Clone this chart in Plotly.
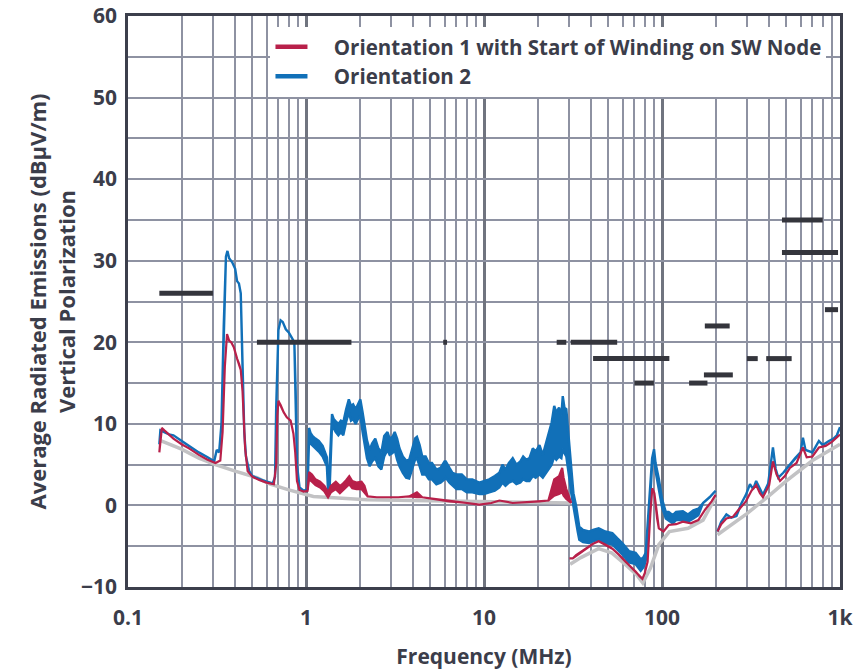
import plotly.graph_objects as go

# ---------------- data ----------------
# Orientation 2 (blue): frequency, upper and lower edge of the trace band
blue_f = [0.15, 0.152, 0.16, 0.17, 0.18, 0.2, 0.22, 0.25, 0.28, 0.305, 0.315, 0.325, 0.335, 0.345, 0.355,
          0.362, 0.37, 0.385, 0.4, 0.41, 0.42, 0.43, 0.44, 0.45, 0.46, 0.48, 0.5, 0.55, 0.6, 0.65, 0.67,
          0.68, 0.7, 0.72, 0.74, 0.77, 0.8, 0.83, 0.86, 0.875, 0.89, 0.92, 0.97, 1.02, 1.04, 1.06, 1.09,
          1.13, 1.18, 1.24, 1.28, 1.31, 1.33, 1.36, 1.4, 1.43, 1.47, 1.52, 1.57, 1.62, 1.68, 1.74, 1.79,
          1.84, 1.9, 1.96, 2.02, 2.08, 2.14, 2.2, 2.28, 2.35, 2.45, 2.55, 2.65, 2.75, 2.87, 2.95, 3.06,
          3.15, 3.25, 3.35, 3.5, 3.65, 3.8, 3.95, 4.1, 4.2, 4.35, 4.5, 4.7, 4.9, 5.1, 5.4, 5.7, 6.0, 6.1,
          6.4, 6.65, 7.0, 7.5, 8.0, 8.6, 9.4, 10.0, 10.7, 11.5, 12.2, 12.7, 13.2, 13.8, 14.5, 15.2, 16.0,
          16.6, 17.3, 18.0, 18.8, 19.5, 20.5, 21.4, 22.2, 23.0, 24.0, 24.8, 25.5, 26.4, 27.2, 27.7, 28.3,
          29.0, 29.6, 30.3, 30.9, 31.8, 32.9, 33.6, 34.3, 36, 38.8, 41, 44.1, 48, 52.6, 56, 59.8, 65.2,
          71.1, 75.9, 78.5, 81, 84, 86.4, 88, 90.2, 92, 96.1, 100, 105, 109, 115, 120, 131, 140, 150, 160,
          170, 185, 200, None, 205, 215, 230, 245, 262, 280, 296, 312, 325, 338, 355, 369, 395, 410, 420,
          435, 450, 480, 523, 560, 600, 619, 640, 660, 700, 761, 800, 866, 920, 960, 1000]
blue_hi = [7.5, 9.2, 9.0, 8.7, 8.6, 7.9, 7.3, 6.5, 5.9, 5.4, 6.8, 6.5, 10, 22, 30.5,
           31.2, 30.3, 29.8, 29.0, 27.5, 27.2, 26.0, 17, 9, 6, 4.2, 3.6, 3.2, 2.9, 2.7, 3.5,
           12, 21.5, 22.7, 22.5, 21.6, 21.2, 20.6, 20.0, 14, 5, 2.2, 1.8, 2.0, 9.5, 8.9, 8.5,
           8.2, 7.9, 7.3, 6.6, 5.9, 3.0, 5.0, 11.2, 10.6, 10.3, 10.0, 10.4, 10.2, 11.8, 13.0, 12.2,
           12.4, 11.8, 12.4, 13.0, 11.4, 9.6, 8.0, 6.8, 7.6, 8.2, 7.0, 6.5, 8.5, 9.0, 8.2, 8.4,
           9.0, 8.2, 7.0, 6.0, 5.5, 5.6, 7.0, 8.2, 8.4, 7.4, 6.0, 6.0, 5.2, 5.2, 4.4, 4.6, 5.4, 5.4,
           4.6, 4.0, 3.8, 3.8, 3.2, 3.2, 2.8, 3.0, 3.2, 3.6, 4.0, 5.0, 4.4, 5.2, 5.8, 5.0, 5.4,
           6.0, 5.6, 5.8, 7.0, 6.6, 7.4, 6.2, 7.4, 8.6, 10.2, 12.2, 11.4, 12.0, 11.0, 13.4, 12.0,
           11.8, 9.5, 6.5, 4.0, 1.5, 0.0, -1.5, -2.6, -3.0, -3.2, -3.0, -2.8, -3.2, -3.4, -4.0, -4.6, -5.6,
           -5.8, -6.6, -6.4, -5.8, -1.0, 3.0, 5.8, 6.9, 5.2, 3.2, 0.8, -0.8, -0.8, -1.2, -0.8, -0.7, -1.1, -0.6, -0.4,
           0.3, 1.0, 1.8, None, -3.2, -2.0, -1.1, -1.5, -1.3, 0.3, 1.3, 2.6, 2.0, 3.0, 2.0, 1.3, 2.7, 5.5, 7.1,
           4.5, 3.4, 4.0, 5.0, 5.8, 6.5, 8.3, 6.8, 6.7, 6.5, 7.9, 7.4, 7.9, 8.2, 8.6, 9.6]
blue_lo = [7.5, 9.2, 9.0, 8.7, 8.6, 7.9, 7.3, 6.5, 5.9, 5.4, 6.8, 6.5, 10, 22, 30.5,
           31.2, 30.3, 29.8, 29.0, 27.5, 27.2, 26.0, 17, 9, 6, 4.2, 3.6, 3.2, 2.9, 2.7, 3.5,
           12, 21.5, 22.7, 22.5, 21.6, 21.2, 20.6, 20.0, 14, 5, 2.2, 1.8, 2.0, 8.0, 7.6, 7.3,
           7.0, 6.6, 6.0, 5.4, 4.8, 1.8, 2.5, 9.8, 9.4, 9.0, 8.6, 9.0, 8.6, 10.2, 11.4, 10.4,
           10.6, 10.0, 10.6, 11.0, 9.0, 7.2, 5.8, 4.8, 5.4, 5.8, 4.8, 4.4, 6.0, 6.8, 6.2, 6.4,
           6.8, 5.6, 4.8, 4.0, 3.4, 3.3, 4.4, 5.6, 5.8, 4.8, 3.8, 3.8, 3.2, 3.2, 2.6, 2.8, 3.2, 3.4,
           2.8, 2.4, 2.0, 2.0, 1.6, 1.6, 1.4, 1.4, 1.6, 1.8, 2.2, 2.8, 2.4, 2.8, 3.0, 2.6, 2.8,
           3.2, 3.0, 3.0, 3.6, 3.4, 3.8, 3.4, 3.8, 4.4, 5.0, 6.0, 5.6, 6.0, 5.8, 7.0, 6.4,
           6.0, 4.5, 3.0, 1.5, -0.5, -2.0, -3.2, -4.2, -4.5, -4.6, -4.4, -4.2, -4.6, -4.8, -5.4, -6.0, -7.0,
           -7.2, -8.0, -7.6, -6.8, -1.5, 2.0, 5.0, 6.0, 4.2, 2.0, -0.2, -1.6, -1.8, -2.2, -1.8, -1.8, -2.0, -1.6, -1.2,
           0.3, 1.0, 1.8, None, -3.2, -2.0, -1.1, -1.5, -1.3, 0.3, 1.3, 2.6, 2.0, 3.0, 2.0, 1.3, 2.7, 5.5, 7.1,
           4.5, 3.4, 4.0, 5.0, 5.8, 6.5, 8.3, 6.8, 6.7, 6.5, 7.9, 7.4, 7.9, 8.2, 8.6, 9.6]

# Orientation 1 (red)
red_f = [0.15, 0.152, 0.155, 0.16, 0.18, 0.2, 0.22, 0.25, 0.28, 0.31, 0.33, 0.34, 0.35, 0.36, 0.37,
         0.38, 0.393, 0.41, 0.42, 0.43, 0.44, 0.455, 0.47, 0.5, 0.55, 0.6, 0.66, 0.68, 0.69, 0.70, 0.72,
         0.75, 0.78, 0.82, 0.85, 0.87, 0.89, 0.92, 0.97, 1.02, 1.04, 1.08, 1.13, 1.2, 1.27, 1.33, 1.38,
         1.47, 1.55, 1.6, 1.68, 1.75, 1.82, 1.92, 2.05, 2.13, 2.22, 2.5, 2.8, 3.3, 3.8, 4.2, 4.5, 5.5,
         6.4, 8, 9.4, 11, 12.2, 14.5, 17, 20.5, 23, 24.8, 26.4, 27.5, 28, 29, 30.9, None,
         30.2, 31.5, 32.9, 35, 37.5, 41, 44.1, 48, 52.6, 57, 62.4, 67, 71.1, 75, 77.6, 80, 83, 86, 88.2,
         90.6, 93.9, 96, 102, 109, 120, 131, 145, 160, 175, 190, 200, None,
         205, 215, 230, 250, 270, 296, 318, 338, 355, 369, 400, 420, 440, 460, 490, 523, 570, 619, 650,
         700, 761, 830, 900, 1000]
red_hi = [6.5, 8.0, 9.5, 9.2, 8.2, 7.5, 7.0, 6.2, 5.6, 5.2, 5.5, 9, 17, 21.0, 20.2,
          20.0, 19.4, 18.0, 17.4, 16.6, 14, 7, 4.2, 3.5, 3.1, 2.8, 2.6, 5, 11, 12.8, 12.3,
          11.4, 10.8, 10.4, 8.8, 6.5, 3, 1.9, 1.7, 1.8, 4.1, 3.8, 3.2, 2.9, 2.4, 1.6, 2.4,
          2.9, 2.4, 2.6, 3.1, 3.6, 3.0, 2.8, 2.9, 2.4, 1.1, 1.0, 1.0, 1.0, 1.1, 1.6, 1.0, 0.7,
          0.5, 0.3, 0.1, 0.3, 0.6, 0.3, 0.4, 0.5, 0.6, 3.2, 3.6, 4.6, 3.4, 2.0, 0.3, None,
          -6.5, -6.5, -6.1, -5.7, -5.3, -4.7, -4.4, -4.8, -5.3, -6.0, -6.9, -7.6, -8.1, -8.7, -9.0, -8.3, -6.9, -1, 2.1,
          1.5, -1.6, -2.8, -3.2, -2.4, -2.3, -2.0, -2.2, -1.8, -0.5, 0.5, 1.3, None,
          -3.2, -2.3, -1.6, -1.4, -0.5, 0.5, 1.8, 2.5, 1.5, 1.0, 2.5, 5.4, 3.8, 3.0, 3.6, 4.6, 5.2, 7.1, 5.9,
          6.0, 7.1, 7.3, 7.8, 8.7]
red_lo = [6.5, 8.0, 9.5, 9.2, 8.2, 7.5, 7.0, 6.2, 5.6, 5.2, 5.5, 9, 17, 21.0, 20.2,
          20.0, 19.4, 18.0, 17.4, 16.6, 14, 7, 4.2, 3.5, 3.1, 2.8, 2.6, 5, 11, 12.8, 12.3,
          11.4, 10.8, 10.4, 8.8, 6.5, 3, 1.9, 1.7, 1.8, 3.2, 2.9, 2.5, 2.2, 1.7, 1.0, 1.6,
          2.0, 1.5, 1.7, 2.2, 2.6, 2.1, 2.0, 2.0, 1.6, 1.1, 1.0, 1.0, 1.0, 1.1, 1.0, 1.0, 0.7,
          0.5, 0.3, 0.1, 0.3, 0.6, 0.3, 0.4, 0.5, 0.6, 1.2, 1.4, 1.6, 1.2, 0.8, 0.3, None,
          -6.5, -6.5, -6.1, -5.7, -5.3, -4.7, -4.4, -4.8, -5.3, -6.0, -6.9, -7.6, -8.1, -8.7, -9.0, -8.3, -6.9, -1, 2.1,
          1.5, -1.6, -2.8, -3.2, -2.4, -2.3, -2.0, -2.2, -1.8, -0.5, 0.5, 1.3, None,
          -3.2, -2.3, -1.6, -1.4, -0.5, 0.5, 1.8, 2.5, 1.5, 1.0, 2.5, 5.4, 3.8, 3.0, 3.6, 4.6, 5.2, 7.1, 5.9,
          6.0, 7.1, 7.3, 7.8, 8.7]

# measurement noise floor (gray)
floor_f = [0.15, 0.2, 0.25, 0.31, 0.4, 0.53, 0.63, 0.8, 1.1, 1.5, 2.2, 4, 10, 20, 30.5, None,
           30.5, 35, 44, 52, 62, 72, 78, 86, 96, 110, 140, 170, 200, None,
           205, 300, 400, 500, 700, 1000]
floor_db = [8.0, 6.9, 5.8, 5.0, 4.2, 3.4, 2.6, 1.9, 1.1, 0.9, 0.7, 0.6, 0.5, 0.4, 0.3, None,
            -7.2, -6.4, -5.3, -5.8, -7.2, -8.5, -9.5, -7.7, -4.8, -3.2, -2.8, -1.8, 1.0, None,
            -3.6, -1.0, 1.2, 3.0, 5.5, 7.5]

# limit lines
limit_start = [0.15, 0.53, 5.9, 25.6, 30.7, 41, 70, 142, 172, 174, 300, 385, 472, 472, 823]
limit_end = [0.30, 1.8, 6.2, 29, 56, 110, 90, 180, 250, 240, 345, 535, 800, 975, 975]
limit_level = [26, 20, 20, 20, 20, 18, 15, 15, 16, 22, 18, 18, 35, 31, 24]

series_names = ["Orientation 1 with Start of Winding on SW Node", "Orientation 2"]
x_tick_vals = [0.1, 1, 10, 100, 1000]
x_tick_text = ["0.1", "1", "10", "100", "1k"]
y_tick_vals = [-10, 0, 10, 20, 30, 40, 50, 60]


# ---------------- helpers ----------------
def band_polygon(fs, his, los):
    """Closed outline: upper edge forward, lower edge back, one polygon per segment."""
    xs, ys = [], []
    seg = []
    for f, h, l in list(zip(fs, his, los)) + [(None, None, None)]:
        if f is None:
            if seg:
                xs += [p[0] for p in seg] + [p[0] for p in reversed(seg)] + [None]
                ys += [p[1] for p in seg] + [p[2] for p in reversed(seg)] + [None]
            seg = []
        else:
            seg.append((f, h, l))
    return xs, ys


lim_x, lim_y = [], []
for a, b, v in zip(limit_start, limit_end, limit_level):
    lim_x += [a, b, None]
    lim_y += [v, v, None]

minor_vals = [m * 10 ** e for e in range(-1, 3) for m in range(2, 10)]

bx, by = band_polygon(blue_f, blue_hi, blue_lo)
rx, ry = band_polygon(red_f, red_hi, red_lo)

BLUE = "#1170b8"
RED = "#b8204a"

fig = go.Figure()
fig.add_trace(go.Scatter(x=floor_f, y=floor_db, mode="lines", line=dict(color="#c2c2c4", width=3.5),
                         showlegend=False, hoverinfo="skip"))
fig.add_trace(go.Scatter(x=bx, y=by, mode="lines", fill="toself", fillcolor=BLUE,
                         line=dict(color=BLUE, width=2.4), showlegend=False))
fig.add_trace(go.Scatter(x=rx, y=ry, mode="lines", fill="toself", fillcolor=RED,
                         line=dict(color=RED, width=2.2), showlegend=False))
fig.add_trace(go.Scatter(x=lim_x, y=lim_y, mode="lines", line=dict(color="#34353c", width=5),
                         showlegend=False, hoverinfo="skip"))
# legend entries
pad = "\u00a0" * 4
fig.add_trace(go.Scatter(x=[None], y=[None], mode="lines", name=pad + series_names[0],
                         line=dict(color=RED, width=4.5)))
fig.add_trace(go.Scatter(x=[None], y=[None], mode="lines", name=pad + series_names[1],
                         line=dict(color=BLUE, width=4.5)))

font_fam = "'Open Sans', Roboto, Arial, sans-serif"
txt_col = "#3b3d4a"
grid_col = "#8e92a2"

fig.update_layout(
    width=856, height=670,
    margin=dict(l=128, r=16, t=16, b=83),
    paper_bgcolor="white", plot_bgcolor="white",
    font=dict(family=font_fam, color=txt_col, size=20),
    legend=dict(x=0.981, xanchor="right", y=0.981, yanchor="top", bgcolor="white",
                font=dict(size=20.5, color=txt_col, weight="bold"),
                itemwidth=32),
    showlegend=True,
)
fig.update_xaxes(
    type="log", range=[-1, 3], automargin=False,
    tickvals=x_tick_vals, ticktext=x_tick_text, ticklabeloverflow="allow",
    showgrid=True, gridcolor="#70747f", gridwidth=2.5,
    minor=dict(tickvals=minor_vals, showgrid=True, gridcolor=grid_col, gridwidth=1.6, ticks=""),
    showline=True, linecolor="#3c3f4c", linewidth=2.5, mirror=True,
    tickfont=dict(size=21, color=txt_col, weight="bold"),
    ticklabelstandoff=10, ticks="",
    title=dict(text="Frequency (MHz)", font=dict(size=21, color=txt_col, weight="bold"), standoff=22),
)
fig.update_yaxes(
    range=[-10, 60], tickvals=y_tick_vals, automargin=False, ticklabeloverflow="allow",
    showgrid=True, gridcolor=grid_col, gridwidth=1.6,
    minor=dict(dtick=5, showgrid=True, gridcolor=grid_col, gridwidth=1.6, ticks=""),
    showline=True, linecolor="#3c3f4c", linewidth=2.5, mirror=True,
    zeroline=False,
    tickfont=dict(size=21, color=txt_col, weight="bold"),
    ticklabelstandoff=4, ticks="",
    title=dict(text="Average Radiated Emissions (dBµV/m)<br>Vertical Polarization",
               font=dict(size=22, color=txt_col, weight="bold"), standoff=0),
)

# remove the page's default 8px body margin so the figure fills the window exactly
fig.write_html("out.html", config={"displayModeBar": False},
               post_script="document.body.style.margin='0';")
